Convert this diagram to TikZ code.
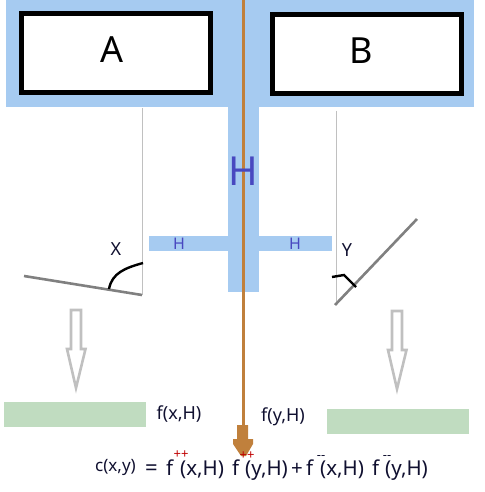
\documentclass[tikz,border=0pt]{standalone}
\usepackage{fontspec}
\setmainfont{Noto Sans}
\definecolor{bluefill}{HTML}{A6CBF1}
\definecolor{greenfill}{HTML}{C0DCC0}
\definecolor{brownline}{HTML}{C0803C}
\definecolor{lightgray}{HTML}{C0C0C0}
\definecolor{midgray}{HTML}{808080}
\definecolor{hblue}{HTML}{4848C0}
\definecolor{ink}{HTML}{101030}
\tikzset{
  blk/.style={fill=bluefill,draw=none},
  grn/.style={fill=greenfill,draw=none},
  whitebox/.style={draw=black,line width=5pt,fill=white},
  thinline/.style={draw=lightgray,line width=1pt},
  lever/.style={draw=midgray,line width=2.6pt},
  anglearc/.style={draw=black,line width=2.4pt},
  hollow/.style={draw=lightgray,line width=2.6pt,fill=white,line join=miter},
  lab/.style={inner sep=0pt,font=\fontsize{18}{20}\selectfont,text=ink},
  eq/.style={inner sep=0pt,anchor=base west,font=\fontsize{20.5}{22}\selectfont,text=ink},
  sup/.style={inner sep=0pt,font=\fontsize{13}{14}\selectfont}
}
\begin{document}
\begin{tikzpicture}[x=1pt,y=-1pt]
\useasboundingbox (0,0) rectangle (484,492);
\fill[blk] (6,0) rectangle (474,107);
\fill[blk] (228,107) rectangle (259,292);
\fill[blk] (149,236) rectangle (332,251);
\draw[whitebox] (21.5,13.5) rectangle (210.5,92.5);
\draw[whitebox] (272.5,14.5) rectangle (461.5,93.5);
\node[inner sep=0pt,font=\fontsize{36}{40}\selectfont] (a) at (112,50) {A};
\node[inner sep=0pt,font=\fontsize{36}{40}\selectfont] (b) at (361,51) {B};
\draw[thinline] (142,108) -- (142,295);
\draw[thinline] (336,111) -- (336,305);
\draw[lever] (24,276) -- (142,295);
\draw[lever] (335,305) -- (417,219);
\draw[anglearc] (109,289) .. controls (112,273) and (125,268) .. (143,263);
\draw[anglearc] (332,277) -- (338,276) -- (344,275) -- (356,287);
\node[lab] (x) at (116,249) {X};
\node[lab] (y) at (347,250) {Y};
\node[inner sep=0pt,font=\fontsize{16}{20}\selectfont,text=hblue] (h2) at (179,244) {H};
\node[inner sep=0pt,font=\fontsize{16}{20}\selectfont,text=hblue] (h3) at (295,244) {H};
\draw[hollow] (71,310) -- (81,310) -- (81,349) -- (85.5,349) -- (76,388) -- (67,349) -- (71,349) -- cycle;
\draw[hollow] (392,311) -- (402,311) -- (402,350) -- (406.5,350) -- (397,389) -- (388,350) -- (392,350) -- cycle;
\fill[grn] (4,402) rectangle (146,427);
\fill[grn] (327,409) rectangle (469,434);
\node[lab] (fx) at (179,414) {f(x,H)};
\node[lab] (fy) at (283,417) {f(y,H)};
\draw[brownline,line width=3pt] (243.5,0) -- (243.5,426);
\fill[brownline] (237,425) -- (248,425) -- (248,439) -- (253,439) -- (253,444) -- (246,456) -- (241,456) -- (233,444) -- (233,439) -- (237,439) -- cycle;
\node[inner sep=0pt,font=\fontsize{40}{44}\selectfont,text=hblue] (h1) at (243.5,171) {H};
\node[eq,font=\fontsize{17}{18}\selectfont] (c) at (95,471) {c(x,y)};
\node[eq,font=\fontsize{22}{22}\selectfont\bfseries] (equals) at (145,475) {=};
\node[eq] (f1) at (166,475) {f};
\node[sup,text=red!75!black] (s1) at (181,455) {++};
\node[eq] (a1) at (180,475) {(x,H)};
\node[eq] (f2) at (232,475) {f};
\node[sup,text=red!75!black] (s2) at (247,456) {++};
\node[eq] (a2) at (245,475) {(y,H)};
\node[eq] (plus) at (291,475) {+};
\node[eq] (f3) at (306,475) {f};
\node[sup,text=ink] (s3) at (321,457) {{-}{-}};
\node[eq] (a3) at (320,475) {(x,H)};
\node[eq] (f4) at (372,475) {f};
\node[sup,text=ink] (s4) at (387,457) {{-}{-}};
\node[eq] (a4) at (385,475) {(y,H)};
\end{tikzpicture}
\end{document}
